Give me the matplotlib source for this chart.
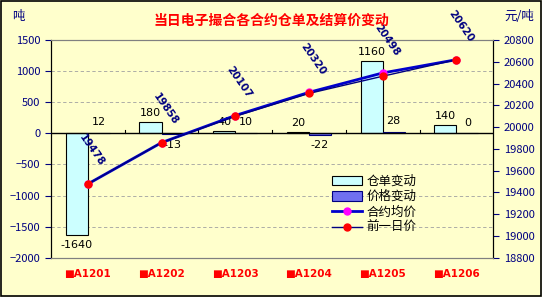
import matplotlib.pyplot as plt
import numpy as np

plt.rcParams['font.family'] = ['Noto Sans CJK SC', 'DejaVu Sans']

contracts = ['■A1201', '■A1202', '■A1203', '■A1204', '■A1205', '■A1206']
warrant_change = [-1640, 180, 40, 20, 1160, 140]
price_change = [12, -13, 10, -22, 28, 0]
avg_price = [19478, 19858, 20107, 20320, 20498, 20620]
prev_price = [19478, 19858, 20100, 20310, 20468, 20620]

bg = '#FFFFCC'
navy = '#000080'

fig = plt.figure(figsize=(5.42, 2.97), dpi=100, facecolor=bg)
ax = fig.add_axes([0.094, 0.132, 0.816, 0.733])
ax.set_facecolor(bg)
ax2 = ax.twinx()

x = np.arange(len(contracts))
w = 0.30
b1 = ax.bar(x - w / 2, warrant_change, w, color='#CCFFFF', edgecolor='black', lw=0.8, label='仓单变动', zorder=2)
b2 = ax.bar(x + w / 2, price_change, w, color='#7070F0', edgecolor=navy, lw=0.8, label='价格变动', zorder=2)

for xi, v in zip(x, warrant_change):
    ax.annotate(str(v), (xi - w / 2, v), xytext=(0, 3 if v >= 0 else -3), textcoords='offset points',
                ha='center', va='bottom' if v >= 0 else 'top', fontsize=8, family='DejaVu Sans')
for xi, v in zip(x, price_change):
    ax.annotate(str(v), (xi + w / 2, v), xytext=(0, 4 if v >= 0 else -4), textcoords='offset points',
                ha='center', va='bottom' if v >= 0 else 'top', fontsize=8, family='DejaVu Sans')

ax.set_ylim(-2000, 1500)
ax.set_yticks(range(-2000, 1501, 500))
ax.set_xlim(-0.5, len(contracts) - 0.5)
ax.grid(axis='y', color='#A0A0A0', ls=(0, (4, 3)), lw=0.6, zorder=0)
ax.axhline(0, color='black', lw=1, zorder=3)
for b in np.arange(0.5, len(contracts) - 0.5):
    ax.plot([b, b], [0, 60], color='black', lw=0.8, zorder=3)
ax.set_xticks(x)
ax.set_xticklabels(contracts, color='red', fontweight='bold', fontsize=7.5, family='DejaVu Sans')
ax.tick_params(axis='x', length=0, pad=8)
ax.tick_params(axis='y', colors=navy, labelsize=8, length=4, direction='out')

l1, = ax2.plot(x, avg_price, color='#0000CC', lw=2, marker='o', ms=5, mfc='#FF00FF', mec='#FF00FF', label='合约均价', zorder=4)
l2, = ax2.plot(x, prev_price, color=navy, lw=1, marker='o', ms=5, mfc='red', mec='red', label='前一日价', zorder=5)
for xi, v in zip(x, avg_price):
    ax2.annotate(str(v), (xi, v), xytext=(3, 24), textcoords='offset points', rotation=-55,
                 ha='center', va='center', fontsize=7.5, fontweight='bold', color=navy, family='DejaVu Sans')
ax2.set_ylim(18800, 20800)
ax2.set_yticks(range(18800, 20801, 200))
ax2.tick_params(axis='y', colors=navy, labelsize=8, length=4)

for a in (ax, ax2):
    a.spines['top'].set_color('#808080')
    a.spines['bottom'].set_color('#808080')
    a.spines['left'].set_color('black')
    a.spines['right'].set_color('black')

ax.legend(handles=[b1, b2, l1, l2], loc='lower right', bbox_to_anchor=(0.84, 0.08), frameon=False,
          fontsize=9, handlelength=2.4, handleheight=0.8, handletextpad=0.3, labelspacing=0.2, borderpad=0)

fig.text(0.5, 0.93, '当日电子撮合各合约仓单及结算价变动', ha='center', va='center', color='red',
         fontsize=10, fontweight='bold')
fig.text(0.022, 0.945, '吨', color=navy, fontsize=9, ha='left', va='center')
fig.text(0.985, 0.945, '元/吨', color=navy, fontsize=9, ha='right', va='center')
fig.patches.append(plt.Rectangle((0.002, 0.003), 0.996, 0.994, transform=fig.transFigure,
                                 fill=False, ec='black', lw=1.2))

fig.savefig('out.png', dpi=100, facecolor=bg)
